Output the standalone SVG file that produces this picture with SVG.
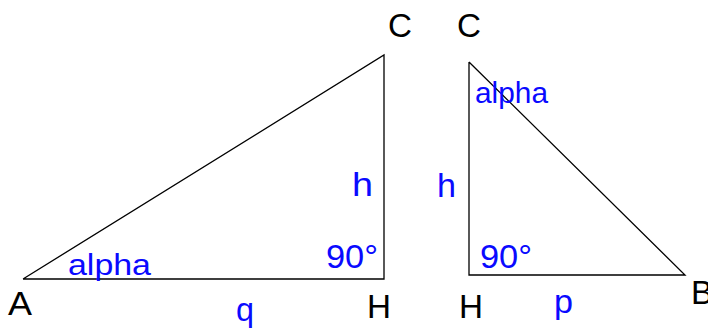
<svg xmlns="http://www.w3.org/2000/svg" width="708" height="329" viewBox="0 0 708 329">
<style>
.edge{fill:none;stroke:#000;stroke-width:1.3}
.pt{font-family:"Liberation Sans",Arial,sans-serif;font-size:33px;fill:#000}
.lb{font-family:"Liberation Sans",Arial,sans-serif;font-size:33px;fill:#0a0aff}
.al{font-size:29px}
</style>
<rect width="708" height="329" fill="#fff"/>
<g id="connectors">
<polyline class="edge" points="23,279 384,279 384,55 23,279"/>
<polyline class="edge" points="469,62 469,275 685,275 469,62"/>
</g>
<g id="A"><text class="pt" x="8" y="315" textLength="24" lengthAdjust="spacingAndGlyphs">A</text></g>
<g id="C1"><text class="pt" x="388" y="37" textLength="24" lengthAdjust="spacingAndGlyphs">C</text></g>
<g id="H1"><text class="pt" x="367" y="318" textLength="24" lengthAdjust="spacingAndGlyphs">H</text></g>
<g id="C2"><text class="pt" x="457" y="37" textLength="24" lengthAdjust="spacingAndGlyphs">C</text></g>
<g id="H2"><text class="pt" x="459" y="318" textLength="24" lengthAdjust="spacingAndGlyphs">H</text></g>
<g id="B"><text class="pt" x="691" y="304">B</text></g>
<g id="labels">
<text class="lb al" x="68" y="275" textLength="83" lengthAdjust="spacingAndGlyphs">alpha</text>
<text class="lb al" x="475" y="103" textLength="73" lengthAdjust="spacingAndGlyphs">alpha</text>
<text class="lb" x="236" y="321" textLength="18" lengthAdjust="spacingAndGlyphs">q</text>
<text class="lb" x="554" y="313" textLength="19" lengthAdjust="spacingAndGlyphs">p</text>
<text class="lb" x="352" y="196" textLength="21" lengthAdjust="spacingAndGlyphs">h</text>
<text class="lb" x="437" y="197" textLength="19" lengthAdjust="spacingAndGlyphs">h</text>
<text class="lb" x="326" y="268" textLength="52" lengthAdjust="spacingAndGlyphs">90°</text>
<text class="lb" x="480" y="268" textLength="52" lengthAdjust="spacingAndGlyphs">90°</text>
</g>
</svg>
